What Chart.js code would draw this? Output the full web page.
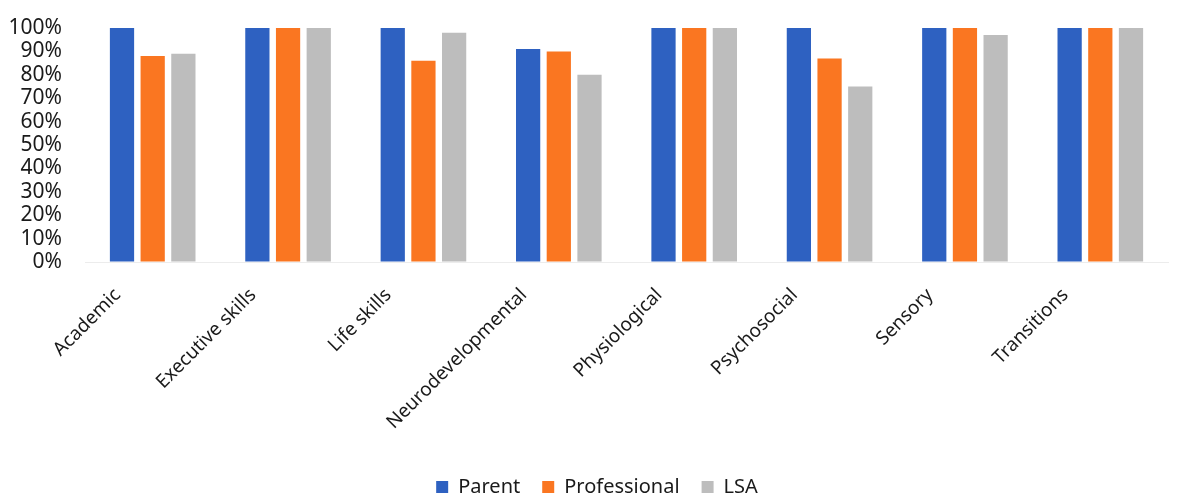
<!doctype html>
<html><head><meta charset="utf-8"><title>Domains by respondent group</title>
<style>
  html, body { margin: 0; padding: 0; background: #fff; }
  canvas { display: block; }
</style>
</head>
<body>
<canvas id="c" width="1194" height="499"></canvas>
<script src="https://cdn.jsdelivr.net/npm/chart.js"></script>
<script>
// categories + one array per respondent group (percent)
const domains = ['Academic', 'Executive skills', 'Life skills', 'Neurodevelopmental',
  'Physiological', 'Psychosocial', 'Sensory', 'Transitions']
const parent = [100, 100, 100, 91, 100, 100, 100, 100]
const professional = [88, 100, 86, 90, 100, 87, 100, 100]
const lsa = [89, 100, 98, 80, 100, 75, 97, 100]
const yTicks = [0, 10, 20, 30, 40, 50, 60, 70, 80, 90, 100]

const FONT = 'Noto Sans, Open Sans, sans-serif'
const TEXT = '#1a1a1a'

const ctx = document.getElementById('c').getContext('2d')
new Chart(ctx, {
  type: 'bar',
  data: {
    labels: domains,
    datasets: [
      { label: 'Parent', data: parent, backgroundColor: '#2e61c1' },
      { label: 'Professional', data: professional, backgroundColor: '#fa7621' },
      { label: 'LSA', data: lsa, backgroundColor: '#bdbdbd' }
    ]
  },
  options: {
    responsive: false,
    animation: false,
    layout: { padding: { top: 28, right: 0, bottom: -8, left: 0 } },
    datasets: {
      bar: { categoryPercentage: 0.68, barPercentage: 0.79 }
    },
    plugins: {
      tooltip: { enabled: false },
      legend: {
        position: 'bottom',
        labels: {
          boxWidth: 12,
          boxHeight: 12,
          padding: 22,
          color: TEXT,
          font: { family: FONT, size: 20 }
        }
      }
    },
    scales: {
      x: {
        grid: { display: false, drawTicks: false },
        border: { display: true, color: '#ececec' },
        ticks: {
          color: TEXT,
          font: { family: FONT, size: 19 },
          minRotation: 45,
          maxRotation: 45,
          padding: 22,
          labelOffset: -35
        },
        afterFit(scale) { scale.height = 193 }
      },
      y: {
        min: 0,
        max: 100,
        afterBuildTicks(scale) { scale.ticks = yTicks.map((v) => ({ value: v })) },
        // tick marks kept (invisible) so the labels sit away from the bars
        grid: { drawOnChartArea: false, drawTicks: true, tickLength: 19, color: 'rgba(0,0,0,0)' },
        border: { display: false },
        ticks: {
          autoSkip: false,
          color: TEXT,
          font: { family: FONT, size: 21 },
          padding: 4,
          callback: (v) => v + '%'
        },
        afterFit(scale) { scale.width = 85 }
      },
      // empty gutter on the right, keeps the legend centred on the page
      gutter: {
        axis: 'y',
        position: 'right',
        grid: { display: false },
        border: { display: false },
        ticks: { display: false },
        afterFit(scale) { scale.width = 26 }
      }
    }
  }
})
</script>
</body></html>
